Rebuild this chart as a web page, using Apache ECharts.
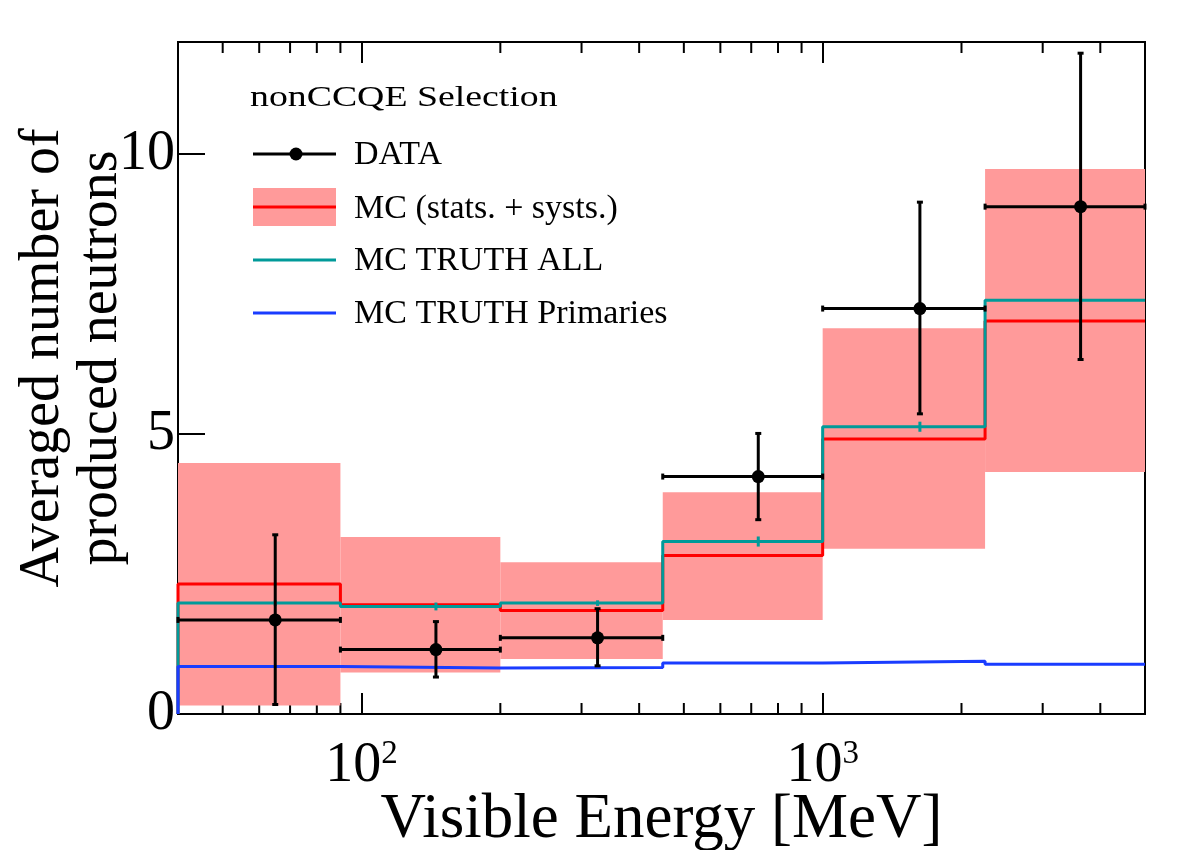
<!DOCTYPE html>
<html>
<head>
<meta charset="UTF-8" />
<title>nonCCQE Selection</title>
<script src="https://cdn.jsdelivr.net/npm/echarts@6/dist/echarts.min.js"></script>
</head>
<body style="margin:0; background:#fff">
<div id="chart" style="width:1182px; height:850px"></div>
<script>
// bins in visible energy [MeV]
var binEdges = [40, 90, 200, 450, 1000, 2250, 5000];
var binCenters = [65, 145, 325, 725, 1625, 3625];

// DATA points with asymmetric errors
var dataValues = [1.68, 1.15, 1.36, 4.24, 7.24, 9.06];
var dataErrLow = [0.17, 0.66, 0.86, 3.47, 5.36, 6.33];
var dataErrHigh = [3.20, 1.65, 1.88, 5.01, 9.14, 11.80];

// MC with stat + syst band
var mcValues = [2.32, 1.95, 1.85, 2.83, 4.91, 7.02];
var mcBandLow = [0.15, 0.74, 0.98, 1.68, 2.95, 4.32];
var mcBandHigh = [4.48, 3.16, 2.71, 3.96, 6.89, 9.73];

// MC truth
var truthAll = [1.98, 1.92, 1.98, 3.08, 5.13, 7.39];
var truthAllErr = [0.05, 0.07, 0.05, 0.09, 0.09, 0.08];
var truthPrimaries = [0.85, 0.82, 0.83, 0.91, 0.94, 0.89];

var minorTicks = [50, 60, 70, 80, 90, 200, 300, 400, 500, 600, 700, 800, 900, 2000, 3000, 4000];

var FONT = '"Liberation Serif", "DejaVu Serif", serif';
var bandColor = '#ff9a9a';
var redColor = '#ff0000';
var tealColor = '#009a99';
var blueColor = '#1a3cff';

// histogram outline: start at (xmin, 0), then left edge of every bin, then xmax
function stepData(vals) {
  var d = [[binEdges[0], 0]];
  for (var i = 0; i < vals.length; i++) d.push([binEdges[i], vals[i]]);
  d.push([binEdges[binEdges.length - 1], vals[vals.length - 1]]);
  return d;
}

var bandData = [];
var pointData = [];
var truthErrData = [];
for (var i = 0; i < binCenters.length; i++) {
  bandData.push([binEdges[i], binEdges[i + 1], mcBandLow[i], mcBandHigh[i]]);
  pointData.push([binCenters[i], dataValues[i], binEdges[i], binEdges[i + 1], dataErrLow[i], dataErrHigh[i]]);
  truthErrData.push([binCenters[i], truthAll[i] - truthAllErr[i], truthAll[i] + truthAllErr[i]]);
}

function stepLine(name, vals, color, z) {
  return {
    name: name,
    type: 'line',
    step: 'end',
    data: stepData(vals),
    showSymbol: false,
    clip: false,
    z: z,
    lineStyle: { color: color, width: 3 },
    itemStyle: { color: color },
    animation: false
  };
}

var chart = echarts.init(document.getElementById('chart'));

var option = {
  backgroundColor: '#fff',
  animation: false,
  grid: {
    left: 178, right: 37, top: 42, bottom: 136,
    outerBoundsMode: 'none',
    containLabel: false,
    show: true, borderColor: '#000', borderWidth: 2
  },
  xAxis: [{
    type: 'log', logBase: 10, min: 40, max: 5000,
    position: 'bottom',
    name: 'Visible Energy [MeV]',
    nameLocation: 'middle',
    nameGap: 75,
    nameMoveOverlap: false,
    nameTextStyle: { fontFamily: FONT, fontSize: 63, color: '#000' },
    axisLine: { lineStyle: { color: '#000', width: 2 } },
    axisTick: { inside: true, length: 21, lineStyle: { color: '#000', width: 2 } },
    splitLine: { show: false },
    axisLabel: {
      margin: 24,
      showMinLabel: false, showMaxLabel: false,
      formatter: function (v) {
        var e = Math.round(Math.log10(v));
        if ((e === 2 || e === 3) && Math.abs(v - Math.pow(10, e)) < 1e-6 * v) {
          return '{b|10}{s|' + e + '}';
        }
        return '';
      },
      rich: {
        b: { fontFamily: FONT, fontSize: 56, color: '#000', verticalAlign: 'bottom', lineHeight: 56 },
        s: { fontFamily: FONT, fontSize: 33, color: '#000', verticalAlign: 'top', lineHeight: 56 }
      }
    }
  }, {
    type: 'log', logBase: 10, min: 40, max: 5000,
    position: 'top',
    axisLine: { lineStyle: { color: '#000', width: 2 } },
    axisTick: { inside: true, length: 21, lineStyle: { color: '#000', width: 2 } },
    axisLabel: { show: false },
    splitLine: { show: false }
  }],
  yAxis: {
    type: 'value', min: 0, max: 12, interval: 5,
    name: 'Averaged number of\nproduced neutrons',
    nameLocation: 'middle',
    nameRotate: 90,
    nameGap: 48,
    nameMoveOverlap: false,
    nameTextStyle: { fontFamily: FONT, fontSize: 56, color: '#000', lineHeight: 58, padding: [0, 0, 0, 40] },
    axisLine: { lineStyle: { color: '#000', width: 2 } },
    axisTick: { inside: true, length: 27, lineStyle: { color: '#000', width: 2 } },
    splitLine: { show: false },
    axisLabel: {
      margin: 3, showMaxLabel: false,
      fontFamily: FONT, fontSize: 56, color: '#000'
    }
  },
  series: [
    {
      // minor log ticks, bottom and top
      type: 'custom',
      z: 1,
      silent: true,
      data: minorTicks.map(function (v) { return [v, 0]; }),
      encode: { x: 0, y: 1 },
      renderItem: function (params, api) {
        var cs = params.coordSys;
        var p = api.coord([api.value(0), 0]);
        var st = { stroke: '#000', lineWidth: 2 };
        return {
          type: 'group',
          children: [
            { type: 'line', shape: { x1: p[0], y1: cs.y + cs.height, x2: p[0], y2: cs.y + cs.height - 11 }, style: st },
            { type: 'line', shape: { x1: p[0], y1: cs.y, x2: p[0], y2: cs.y + 11 }, style: st }
          ]
        };
      }
    },
    {
      name: 'MC band',
      type: 'custom',
      z: 2,
      data: bandData,
      encode: { x: [0, 1], y: [2, 3] },
      renderItem: function (params, api) {
        var a = api.coord([api.value(0), api.value(3)]);
        var b = api.coord([api.value(1), api.value(2)]);
        return {
          type: 'rect',
          shape: { x: a[0], y: a[1], width: b[0] - a[0], height: b[1] - a[1] },
          style: { fill: bandColor }
        };
      }
    },
    stepLine('MC (stats. + systs.)', mcValues, redColor, 3),
    stepLine('MC TRUTH ALL', truthAll, tealColor, 4),
    {
      type: 'custom',
      z: 4,
      data: truthErrData,
      encode: { x: 0, y: [1, 2] },
      renderItem: function (params, api) {
        var a = api.coord([api.value(0), api.value(1)]);
        var b = api.coord([api.value(0), api.value(2)]);
        return {
          type: 'line',
          shape: { x1: a[0], y1: a[1], x2: b[0], y2: b[1] },
          style: { stroke: tealColor, lineWidth: 3 }
        };
      }
    },
    stepLine('MC TRUTH Primaries', truthPrimaries, blueColor, 5),
    {
      name: 'DATA',
      type: 'custom',
      z: 6,
      data: pointData,
      encode: { x: [0, 2, 3], y: [1, 4, 5] },
      renderItem: function (params, api) {
        var c = api.coord([api.value(0), api.value(1)]);
        var l = api.coord([api.value(2), api.value(1)]);
        var r = api.coord([api.value(3), api.value(1)]);
        var lo = api.coord([api.value(0), api.value(4)]);
        var hi = api.coord([api.value(0), api.value(5)]);
        var st = { stroke: '#000', lineWidth: 3 };
        var cap = 3;
        return {
          type: 'group',
          children: [
            { type: 'line', shape: { x1: l[0], y1: l[1], x2: r[0], y2: r[1] }, style: st },
            { type: 'line', shape: { x1: lo[0], y1: lo[1], x2: hi[0], y2: hi[1] }, style: st },
            { type: 'line', shape: { x1: l[0], y1: l[1] - cap, x2: l[0], y2: l[1] + cap }, style: st },
            { type: 'line', shape: { x1: r[0], y1: r[1] - cap, x2: r[0], y2: r[1] + cap }, style: st },
            { type: 'line', shape: { x1: lo[0] - cap, y1: lo[1], x2: lo[0] + cap, y2: lo[1] }, style: st },
            { type: 'line', shape: { x1: hi[0] - cap, y1: hi[1], x2: hi[0] + cap, y2: hi[1] }, style: st },
            { type: 'circle', shape: { cx: c[0], cy: c[1], r: 6.5 }, style: { fill: '#000' } }
          ]
        };
      }
    }
  ],
  graphic: [
    { type: 'text', x: 250, y: 98, scaleX: 1.26, style: { text: 'nonCCQE Selection', fontFamily: FONT, fontSize: 30, fill: '#000', verticalAlign: 'middle' } },

    { type: 'line', shape: { x1: 253, y1: 154, x2: 336, y2: 154 }, style: { stroke: '#000', lineWidth: 3 } },
    { type: 'circle', shape: { cx: 296, cy: 154, r: 6.5 }, style: { fill: '#000' } },
    { type: 'text', x: 354, y: 155, style: { text: 'DATA', fontFamily: FONT, fontSize: 34, fill: '#000', verticalAlign: 'middle' } },

    { type: 'rect', shape: { x: 253, y: 188, width: 83, height: 38 }, style: { fill: bandColor } },
    { type: 'line', shape: { x1: 253, y1: 207, x2: 336, y2: 207 }, style: { stroke: redColor, lineWidth: 3 } },
    { type: 'text', x: 354, y: 209, style: { text: 'MC (stats. + systs.)', fontFamily: FONT, fontSize: 34, fill: '#000', verticalAlign: 'middle' } },

    { type: 'line', shape: { x1: 253, y1: 260, x2: 336, y2: 260 }, style: { stroke: tealColor, lineWidth: 3 } },
    { type: 'text', x: 354, y: 261, style: { text: 'MC TRUTH ALL', fontFamily: FONT, fontSize: 34, fill: '#000', verticalAlign: 'middle' } },

    { type: 'line', shape: { x1: 253, y1: 313, x2: 336, y2: 313 }, style: { stroke: blueColor, lineWidth: 3 } },
    { type: 'text', x: 354, y: 314, style: { text: 'MC TRUTH Primaries', fontFamily: FONT, fontSize: 34, fill: '#000', verticalAlign: 'middle' } }
  ]
};

chart.setOption(option);
</script>
</body>
</html>
